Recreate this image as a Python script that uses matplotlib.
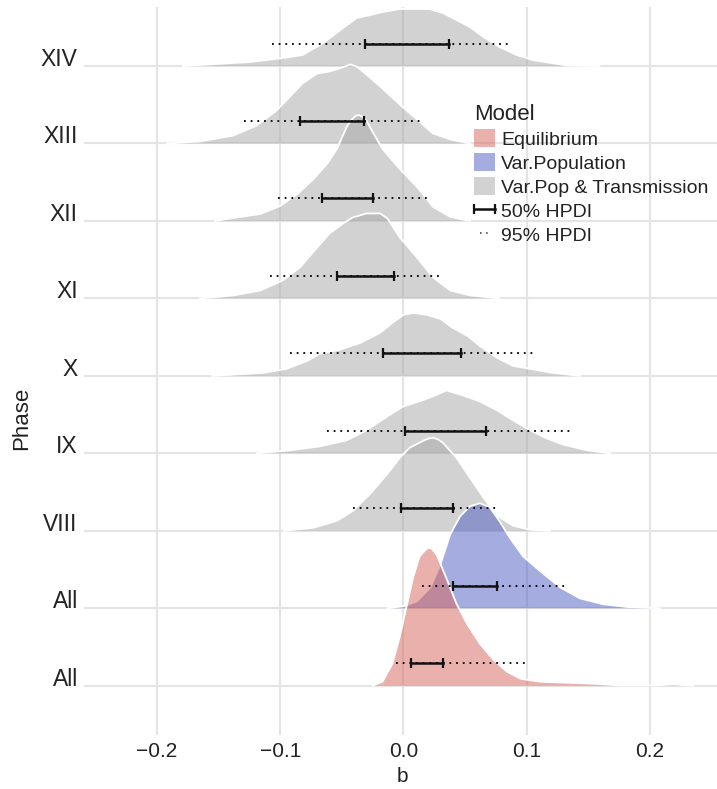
import numpy as np
import matplotlib.pyplot as plt
from matplotlib.patches import Patch
from matplotlib.lines import Line2D
from matplotlib.legend_handler import HandlerLine2D

plt.rcParams['font.family'] = ['Liberation Sans', 'DejaVu Sans']

# rows from bottom to top
row_labels = ['All', 'All', 'VIII', 'IX', 'X', 'XI', 'XII', 'XIII', 'XIV']
row_model = ['Equilibrium', 'Var.Population'] + ['Var.Pop & Transmission'] * 7

# posterior densities of b (height: 1 = one row)
b_eq = [-0.025, -0.017, -0.009, -0.003, 0.003, 0.008, 0.013, 0.017, 0.020, 0.023, 0.027, 0.035,
        0.043, 0.052, 0.062, 0.073, 0.084, 0.095, 0.111, 0.133, 0.154, 0.176, 0.202, 0.219, 0.235]
h_eq = [0, 0.052, 0.284, 0.633, 1.059, 1.407, 1.665, 1.740, 1.782, 1.770, 1.691, 1.381,
        1.059, 0.788, 0.542, 0.336, 0.181, 0.090, 0.052, 0.039, 0.026, 0.004, 0.004, 0.017, 0]

b_pop = [-0.013, 0.000, 0.011, 0.022, 0.030, 0.038, 0.046, 0.054, 0.062, 0.070, 0.078, 0.086,
         0.097, 0.111, 0.127, 0.143, 0.162, 0.181, 0.208]
h_pop = [0, 0.026, 0.090, 0.271, 0.568, 0.955, 1.188, 1.317, 1.356, 1.304, 1.123, 0.917,
         0.671, 0.478, 0.271, 0.129, 0.052, 0.017, 0]

b_viii = [-0.097, -0.073, -0.054, -0.041, -0.027, -0.013, -0.003, 0.005, 0.016, 0.020, 0.024,
          0.028, 0.032, 0.043, 0.054, 0.065, 0.076, 0.089, 0.103, 0.119]
h_viii = [0, 0.039, 0.129, 0.258, 0.478, 0.736, 0.942, 1.072, 1.162, 1.190, 1.201,
          1.180, 1.136, 0.942, 0.684, 0.426, 0.194, 0.065, 0.013, 0]

b_ix = [-0.119, -0.092, -0.068, -0.046, -0.030, -0.013, 0.000, 0.013, 0.024, 0.035, 0.048,
        0.062, 0.076, 0.089, 0.103, 0.116, 0.129, 0.149, 0.168]
h_ix = [0, 0.039, 0.090, 0.168, 0.297, 0.478, 0.607, 0.671, 0.736, 0.813, 0.749,
        0.671, 0.555, 0.426, 0.297, 0.194, 0.116, 0.039, 0]

b_x = [-0.155, -0.114, -0.095, -0.078, -0.068, -0.052, -0.035, -0.019, -0.009, 0.000, 0.008,
       0.019, 0.030, 0.040, 0.052, 0.062, 0.076, 0.089, 0.103, 0.121, 0.143]
h_x = [0, 0.039, 0.090, 0.194, 0.284, 0.336, 0.426, 0.555, 0.684, 0.788, 0.813,
       0.788, 0.736, 0.620, 0.516, 0.387, 0.232, 0.129, 0.090, 0.039, 0]

b_xi = [-0.165, -0.138, -0.116, -0.098, -0.084, -0.070, -0.060, -0.049, -0.041, -0.030, -0.019,
        -0.013, -0.003, 0.011, 0.024, 0.038, 0.054, 0.078]
h_xi = [0, 0.039, 0.103, 0.232, 0.400, 0.658, 0.839, 0.968, 1.046, 1.097, 1.097,
        1.033, 0.788, 0.529, 0.271, 0.103, 0.039, 0]

b_xii = [-0.153, -0.138, -0.116, -0.100, -0.086, -0.073, -0.062, -0.054, -0.046, -0.043, -0.039,
         -0.036, -0.033, -0.030, -0.025, -0.017, -0.003, 0.011, 0.024, 0.038, 0.054]
h_xii = [0, 0.039, 0.090, 0.194, 0.349, 0.542, 0.736, 0.930, 1.214, 1.290, 1.355,
         1.368, 1.340, 1.291, 1.149, 0.930, 0.671, 0.439, 0.181, 0.052, 0]

b_xiii = [-0.192, -0.165, -0.138, -0.119, -0.103, -0.092, -0.082, -0.070, -0.060, -0.052, -0.043,
          -0.038, -0.030, -0.017, -0.003, 0.011, 0.024, 0.038, 0.054]
h_xiii = [0, 0.026, 0.103, 0.232, 0.426, 0.607, 0.775, 0.904, 0.930, 0.968, 1.020,
          0.994, 0.891, 0.710, 0.503, 0.310, 0.129, 0.052, 0]

b_xiv = [-0.179, -0.125, -0.098, -0.082, -0.065, -0.049, -0.038, -0.027, -0.017, -0.003, 0.011,
         0.021, 0.032, 0.043, 0.054, 0.065, 0.078, 0.092, 0.105, 0.133, 0.159]
h_xiv = [0, 0.052, 0.103, 0.142, 0.297, 0.491, 0.620, 0.658, 0.697, 0.736, 0.736,
         0.736, 0.684, 0.594, 0.503, 0.374, 0.245, 0.142, 0.077, 0.006, 0]

dens_b = [b_eq, b_pop, b_viii, b_ix, b_x, b_xi, b_xii, b_xiii, b_xiv]
dens_h = [h_eq, h_pop, h_viii, h_ix, h_x, h_xi, h_xii, h_xiii, h_xiv]

# HPDI intervals, same row order
hpdi95_lo = [-0.006, 0.015, -0.041, -0.062, -0.092, -0.108, -0.102, -0.129, -0.107]
hpdi95_hi = [0.099, 0.131, 0.075, 0.135, 0.105, 0.031, 0.019, 0.015, 0.088]
hpdi50_lo = [0.006, 0.040, -0.002, 0.001, -0.017, -0.054, -0.066, -0.084, -0.031]
hpdi50_hi = [0.032, 0.076, 0.040, 0.067, 0.047, -0.008, -0.025, -0.032, 0.037]

models = ['Equilibrium', 'Var.Population', 'Var.Pop & Transmission']
model_colors = {'Equilibrium': '#D76359',
                'Var.Population': '#4D5BC1',
                'Var.Pop & Transmission': '#A7A7A7'}

xticks = [-0.2, -0.1, 0.0, 0.1, 0.2]
xtick_labels = ['\u22120.2', '\u22120.1', '0.0', '0.1', '0.2']


fig = plt.figure(figsize=(7.17, 7.89), dpi=100)
ax = fig.add_axes([84 / 717, 54 / 789, 633 / 717, 728 / 789])

# ridges, top row first so lower rows sit on top
n = len(row_labels)
for i in range(n - 1, -1, -1):
    z = 2 + (n - i) * 2
    xs = dens_b[i]
    ys = [i + h for h in dens_h[i]]
    ax.fill_between(xs, i, ys, facecolor=model_colors[row_model[i]], alpha=0.5,
                    lw=0, zorder=z)
    ax.plot(xs, ys, color='white', lw=1.3, zorder=z + 1, solid_joinstyle='round')

# intervals
off = 0.29
for i in range(n):
    y = i + off
    ax.plot([hpdi95_lo[i], hpdi95_hi[i]], [y, y], color='black', lw=1.3,
            ls=(0, (1, 2.7)), zorder=100)
    ax.plot([hpdi50_lo[i], hpdi50_hi[i]], [y, y], color='#111111', lw=1.8,
            marker='|', ms=6.5, mew=1.6, zorder=101)

ax.set_xlim(-0.2592, 0.2544)
ax.set_ylim(-0.636, 8.762)
ax.set_xticks(xticks)
ax.set_xticklabels(xtick_labels, fontsize=15, color='#222222')
ax.set_yticks(range(n))
ax.set_yticklabels(row_labels, fontsize=16.5, color='#222222')
for lbl in ax.get_yticklabels():
    lbl.set_va('baseline')
ax.tick_params(axis='both', length=0)
ax.tick_params(axis='x', pad=5)
ax.tick_params(axis='y', pad=4.5)
ax.grid(True, color='#e4e4e4', lw=1.5)
ax.set_axisbelow(True)
for s in ax.spines.values():
    s.set_visible(False)

fig.text(402 / 717, 1 - 782 / 789, 'b', fontsize=15, ha='center', va='baseline',
         color='#222222')
fig.text(32 / 717, 371 / 789, 'Phase', fontsize=16, rotation=90, ha='right',
         va='center', color='#222222')

# legend
handles = [Patch(facecolor=model_colors[m], alpha=0.5, lw=0) for m in models]
h50 = Line2D([], [], color='#111111', lw=1.8, marker='|', ms=6.5, mew=1.6)
h95 = Line2D([], [], color='#333333', lw=1.1, ls=(0, (1, 3)))
handles += [h50, h95]
labels = models + ['50% HPDI', '95% HPDI']
leg = fig.legend(handles, labels, title='Model', loc='upper left',
                 bbox_to_anchor=(474 / 717, 1 - 104 / 789), frameon=False,
                 fontsize=14, title_fontsize=16, alignment='left',
                 borderpad=0, borderaxespad=0, labelspacing=0.22,
                 handlelength=1.1, handleheight=1.05, handletextpad=0.3,
                 numpoints=2, handler_map={h50: HandlerLine2D(marker_pad=0)})
for t in leg.get_texts():
    t.set_color('#222222')
leg.get_title().set_color('#222222')

fig.savefig('out.png', dpi=100)
